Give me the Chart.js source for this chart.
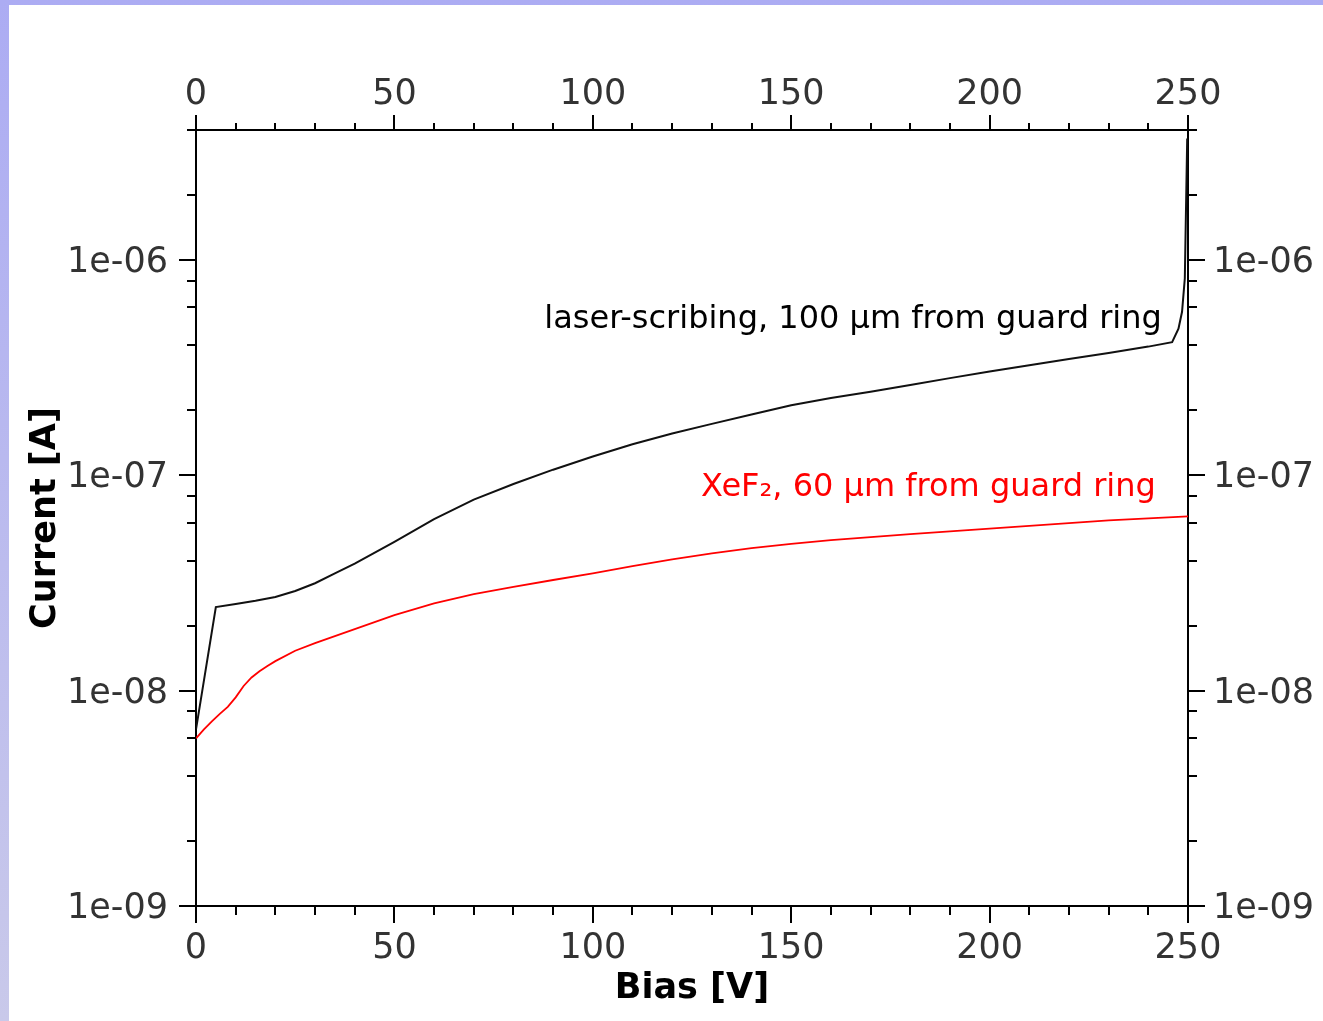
<!DOCTYPE html>
<html>
<head>
<meta charset="utf-8">
<script src="https://cdn.jsdelivr.net/npm/chart.js@4/dist/chart.umd.min.js"></script>
<style>
  html, body { margin: 0; padding: 0; overflow: hidden; }
  body { width: 1323px; height: 1021px; background: linear-gradient(to bottom, #acacf3, #c9c9ea); }
  #wrap { position: absolute; left: 9px; top: 5px; width: 1314px; height: 1016px; background: #fff; }
</style>
</head>
<body>
<div id="wrap"><canvas id="ivChart"></canvas></div>
<script>
// laser-scribing sample, 100 um from guard ring
const biasLaser = [0, 5, 10, 15, 20, 25, 30, 35, 40, 50, 60, 70, 80, 90, 100, 110, 120, 130, 140, 150, 160, 170, 180, 190, 200, 210, 220, 230, 240, 246, 247.6, 248.5, 249.2, 249.8];
const currentLaser = [6.6e-9, 2.44e-8, 2.52e-8, 2.61e-8, 2.72e-8, 2.9e-8, 3.15e-8, 3.5e-8, 3.88e-8, 4.9e-8, 6.25e-8, 7.7e-8, 9.1e-8, 1.06e-7, 1.22e-7, 1.39e-7, 1.56e-7, 1.73e-7, 1.91e-7, 2.11e-7, 2.28e-7, 2.44e-7, 2.62e-7, 2.82e-7, 3.03e-7, 3.24e-7, 3.46e-7, 3.69e-7, 3.95e-7, 4.14e-7, 4.78e-7, 5.73e-7, 8.2e-7, 3.65e-6];

// XeF2 sample, 60 um from guard ring
const biasXeF2 = [0, 2, 4, 6, 8, 10, 12, 14, 16, 18, 20, 25, 30, 40, 50, 60, 70, 80, 90, 100, 110, 120, 130, 140, 150, 160, 170, 180, 190, 200, 210, 220, 230, 240, 250];
const currentXeF2 = [6.0e-9, 6.6e-9, 7.2e-9, 7.8e-9, 8.4e-9, 9.3e-9, 1.05e-8, 1.15e-8, 1.23e-8, 1.3e-8, 1.37e-8, 1.53e-8, 1.66e-8, 1.93e-8, 2.24e-8, 2.54e-8, 2.8e-8, 3.03e-8, 3.26e-8, 3.5e-8, 3.78e-8, 4.06e-8, 4.33e-8, 4.58e-8, 4.8e-8, 4.99e-8, 5.16e-8, 5.32e-8, 5.48e-8, 5.64e-8, 5.82e-8, 5.99e-8, 6.16e-8, 6.3e-8, 6.44e-8];

const biasMin = 0, biasMax = 250;
const currentMin = 1e-9, currentMax = 4e-6;
const xMinorStep = 10, xMajorStep = 50;
const yMantissas = [1, 2, 4, 6, 8];

const seriesLabels = ["laser-scribing, 100 µm from guard ring", "XeF₂, 60 µm from guard ring"];
// text anchors in data units (right end, baseline)
const labelBias = [243.4, 241.9];
const labelCurrent = [4.83e-7, 7.98e-8];
const labelColors = ["#000000", "#ff0000"];

function toPoints(xs, ys) {
	return xs.map((x, i) => ({ x: x, y: ys[i] }));
}

function xTicks(scale) {
	const ticks = [];
	for (let v = biasMin; v <= biasMax; v += xMinorStep) {
		ticks.push({ value: v, major: v % xMajorStep === 0 });
	}
	scale.ticks = ticks;
}

function yTicks(scale) {
	const ticks = [];
	for (let e = -9; e <= -6; e++) {
		yMantissas.forEach((m) => {
			const v = m * Math.pow(10, e);
			if (v <= currentMax * 1.0001) ticks.push({ value: v, major: m === 1 });
		});
	}
	scale.ticks = ticks;
}

function xLabel(v) {
	return v % xMajorStep === 0 ? String(v) : "";
}

function yLabel(v) {
	const e = Math.round(Math.log10(v));
	const m = v / Math.pow(10, e);
	if (Math.abs(m - 1) > 1e-6) return "";
	return "1e-" + String(-e).padStart(2, "0");
}

const tickFont = { family: "DejaVu Sans", size: 35 };
const titleFont = { family: "DejaVu Sans", size: 35, weight: "bold" };

// outward tick marks, long for major and short for minor
const tickMarks = {
	id: "tickMarks",
	afterDraw(chart) {
		const ctx = chart.ctx;
		ctx.save();
		ctx.strokeStyle = "#000";
		ctx.lineWidth = 2;
		["x", "x2", "y", "y2"].forEach((id) => {
			const scale = chart.scales[id];
			scale.ticks.forEach((t) => {
				const len = t.major ? 17 : 9;
				const p = Math.round(scale.getPixelForValue(t.value));
				ctx.beginPath();
				if (scale.position === "bottom") {
					ctx.moveTo(p, scale.top); ctx.lineTo(p, scale.top + len);
				} else if (scale.position === "top") {
					ctx.moveTo(p, scale.bottom); ctx.lineTo(p, scale.bottom - len + 2);
				} else if (scale.position === "left") {
					ctx.moveTo(scale.right, p); ctx.lineTo(scale.right - len, p);
				} else {
					ctx.moveTo(scale.left, p); ctx.lineTo(scale.left + len, p);
				}
				ctx.stroke();
			});
		});
		ctx.restore();
	},
};

const curveLabels = {
	id: "curveLabels",
	afterDatasetsDraw(chart) {
		const ctx = chart.ctx;
		const xs = chart.scales.x, ys = chart.scales.y;
		ctx.save();
		ctx.font = "32px 'DejaVu Sans'";
		ctx.textAlign = "right";
		ctx.textBaseline = "alphabetic";
		seriesLabels.forEach((txt, i) => {
			ctx.fillStyle = labelColors[i];
			ctx.fillText(txt, xs.getPixelForValue(labelBias[i]), ys.getPixelForValue(labelCurrent[i]));
		});
		ctx.restore();
	},
};

function xAxis(position, padding, titleOn) {
	return {
		type: "linear",
		position: position,
		min: biasMin,
		max: biasMax,
		afterBuildTicks: xTicks,
		afterFit: (scale) => { scale.height = position === "bottom" ? 115 : 125; },
		grid: { display: true, drawOnChartArea: false, drawTicks: false },
		border: { display: true, color: "#000", width: 2 },
		ticks: { autoSkip: false, maxRotation: 0, padding: padding, color: "#333", font: tickFont, callback: xLabel },
		title: { display: titleOn, text: "Bias [V]", color: "#000", font: titleFont, padding: { top: 0, bottom: 11 } },
	};
}

function yAxis(position, padding, titleOn) {
	return {
		type: "logarithmic",
		position: position,
		min: currentMin,
		max: currentMax,
		afterBuildTicks: yTicks,
		afterFit: (scale) => { scale.width = position === "left" ? 187 : 135; },
		grid: { display: true, drawOnChartArea: false, drawTicks: false },
		border: { display: true, color: "#000", width: 2 },
		ticks: { autoSkip: false, padding: padding, labelOffset: 3, color: "#333", font: tickFont, callback: yLabel },
		title: { display: titleOn, text: "Current [A]", color: "#000", font: titleFont, padding: { top: 16, bottom: 0 } },
	};
}

const ivChart = new Chart(document.getElementById("ivChart").getContext("2d"), {
	type: "line",
	data: {
		datasets: [
			{
				label: seriesLabels[0],
				data: toPoints(biasLaser, currentLaser),
				borderColor: "#111111",
				borderWidth: 2,
				pointRadius: 0,
				tension: 0,
				xAxisID: "x",
				yAxisID: "y",
			},
			{
				label: seriesLabels[1],
				data: toPoints(biasXeF2, currentXeF2),
				borderColor: "#ff0000",
				borderWidth: 1.8,
				pointRadius: 0,
				tension: 0,
				xAxisID: "x",
				yAxisID: "y",
			},
		],
	},
	options: {
		responsive: true,
		maintainAspectRatio: false,
		animation: false,
		layout: { padding: 0 },
		plugins: { legend: { display: false }, tooltip: { enabled: false } },
		scales: {
			x: xAxis("bottom", 22, true),
			x2: xAxis("top", 14, false),
			y: yAxis("left", 28, true),
			y2: yAxis("right", 25, false),
		},
	},
	plugins: [tickMarks, curveLabels],
});
</script>
</body>
</html>
